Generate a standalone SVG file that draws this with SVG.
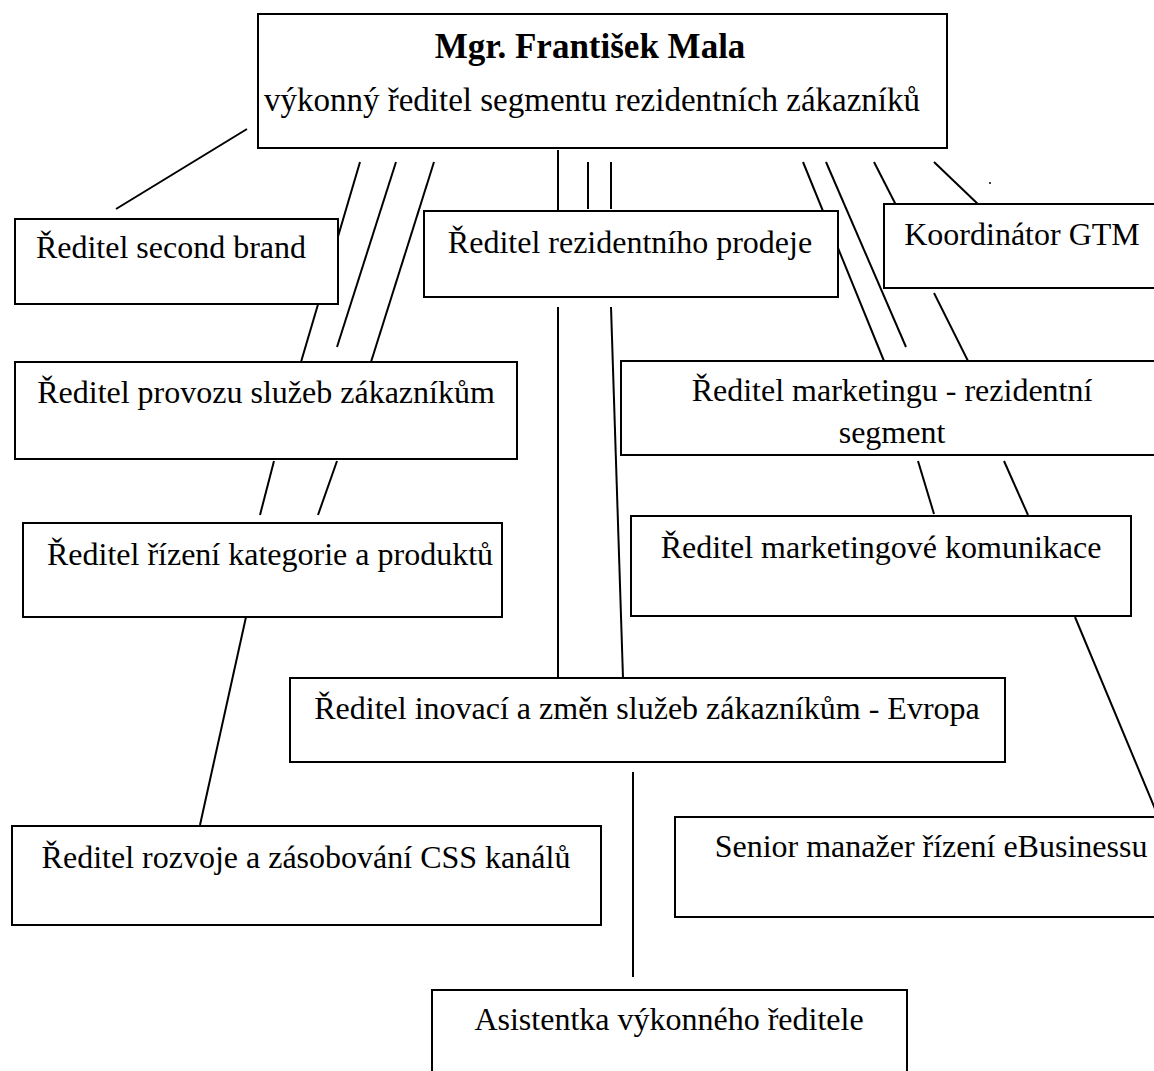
<svg xmlns="http://www.w3.org/2000/svg" width="1154" height="1071" viewBox="0 0 1154 1071">
  <style>
    .box { fill: #ffffff; stroke: #000000; stroke-width: 2; }
    .conn line { stroke: #000000; stroke-width: 2; }
    .lbl { font-family: "Liberation Serif", "Times New Roman", serif; font-size: 32px; fill: #000000; text-anchor: middle; }
    .name { font-weight: bold; font-size: 35px; }
    .title { font-size: 33px; }
  </style>
  <defs>
    <clipPath id="clip-marketing">
      <rect x="621" y="361" width="540" height="94"/>
    </clipPath>
  </defs>
  <rect x="0" y="0" width="1154" height="1071" fill="#ffffff"/>

  <!-- reporting lines, drawn under the boxes -->
  <g id="connectors" class="conn">
    <line x1="247" y1="129" x2="116" y2="209"/>
    <line x1="360" y1="162" x2="301" y2="362"/>
    <line x1="396" y1="162" x2="337" y2="347"/>
    <line x1="434" y1="162" x2="371" y2="362"/>
    <line x1="558" y1="150" x2="558" y2="211"/>
    <line x1="588" y1="162" x2="588" y2="209"/>
    <line x1="611" y1="162" x2="611" y2="209"/>
    <line x1="803" y1="162" x2="884" y2="361"/>
    <line x1="826" y1="162" x2="906" y2="347"/>
    <line x1="874" y1="162" x2="897" y2="207"/>
    <line x1="934" y1="162" x2="981" y2="207"/>
    <line x1="934" y1="293" x2="968" y2="361"/>
    <line x1="274" y1="461" x2="260" y2="515"/>
    <line x1="337" y1="461" x2="318" y2="515"/>
    <line x1="918" y1="461" x2="934" y2="514"/>
    <line x1="1004" y1="461" x2="1028" y2="515"/>
    <line x1="558" y1="307" x2="558" y2="678"/>
    <line x1="611" y1="307" x2="623" y2="678"/>
    <line x1="246" y1="617" x2="200" y2="825"/>
    <line x1="1075" y1="617" x2="1158" y2="816"/>
    <line x1="633" y1="772" x2="633" y2="977"/>
    <circle cx="990" cy="183" r="1"/>
  </g>

  <g id="node-reditel-segmentu">
    <rect class="box" x="258" y="14" width="689" height="134"/>
    <text class="lbl name" x="590" y="58" font-family="Liberation Serif, serif">Mgr. František Mala</text>
    <text class="lbl title" x="592" y="111" font-family="Liberation Serif, serif">výkonný ředitel segmentu rezidentních zákazníků</text>
  </g>

  <g id="node-second-brand">
    <rect class="box" x="15" y="219" width="323" height="85"/>
    <text class="lbl" x="171" y="258" font-family="Liberation Serif, serif">Ředitel second brand</text>
  </g>

  <g id="node-rezidentni-prodej">
    <rect class="box" x="424" y="211" width="414" height="86"/>
    <text class="lbl" x="630" y="253" font-family="Liberation Serif, serif">Ředitel rezidentního prodeje</text>
  </g>

  <g id="node-koordinator-gtm">
    <rect class="box" x="884" y="204" width="280" height="84"/>
    <text class="lbl" x="1022" y="245" font-family="Liberation Serif, serif">Koordinátor GTM</text>
  </g>

  <g id="node-provoz-sluzeb">
    <rect class="box" x="15" y="362" width="502" height="97"/>
    <text class="lbl" x="266" y="403" font-family="Liberation Serif, serif">Ředitel provozu služeb zákazníkům</text>
  </g>

  <g id="node-marketing">
    <rect class="box" x="621" y="361" width="540" height="94"/>
    <g clip-path="url(#clip-marketing)">
      <text class="lbl" x="892" y="401" font-family="Liberation Serif, serif">Ředitel marketingu - rezidentní</text>
      <text class="lbl" x="892" y="443" font-family="Liberation Serif, serif">segment</text>
    </g>
  </g>

  <g id="node-kategorie-produkty">
    <rect class="box" x="23" y="523" width="479" height="94"/>
    <text class="lbl" x="270" y="565" font-family="Liberation Serif, serif">Ředitel řízení kategorie a produktů</text>
  </g>

  <g id="node-marketingova-komunikace">
    <rect class="box" x="631" y="516" width="500" height="100"/>
    <text class="lbl" x="881" y="558" font-family="Liberation Serif, serif">Ředitel marketingové komunikace</text>
  </g>

  <g id="node-inovace">
    <rect class="box" x="290" y="678" width="715" height="84"/>
    <text class="lbl" x="647" y="719" font-family="Liberation Serif, serif">Ředitel inovací a změn služeb zákazníkům - Evropa</text>
  </g>

  <g id="node-css-kanaly">
    <rect class="box" x="12" y="826" width="589" height="99"/>
    <text class="lbl" x="306" y="868" font-family="Liberation Serif, serif">Ředitel rozvoje a zásobování CSS kanálů</text>
  </g>

  <g id="node-ebusiness">
    <rect class="box" x="675" y="817" width="490" height="100"/>
    <text class="lbl" x="931" y="857" font-family="Liberation Serif, serif">Senior manažer řízení eBusinessu</text>
  </g>

  <g id="node-asistentka">
    <rect class="box" x="432" y="990" width="475" height="90"/>
    <text class="lbl" x="669" y="1030" font-family="Liberation Serif, serif">Asistentka výkonného ředitele</text>
  </g>
</svg>
